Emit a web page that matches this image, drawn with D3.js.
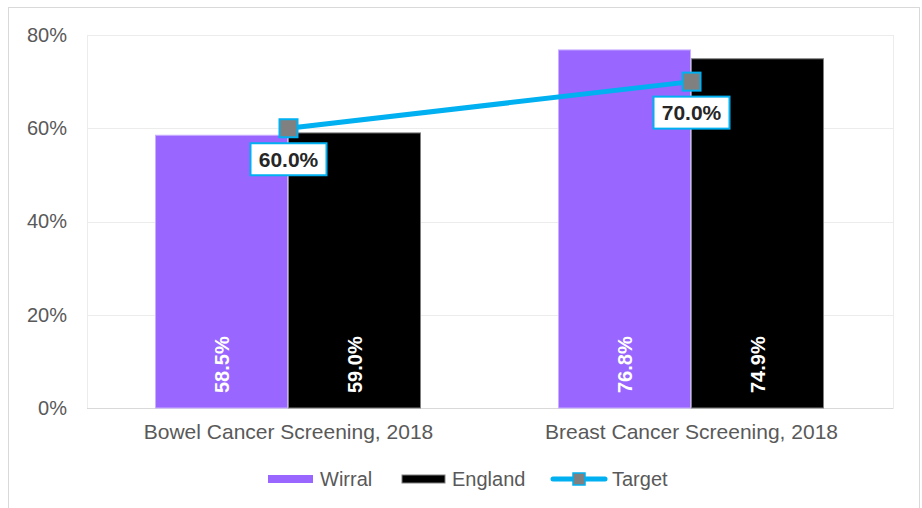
<!DOCTYPE html>
<html>
<head>
<meta charset="utf-8">
<script src="https://cdn.jsdelivr.net/npm/d3@7"></script>
<style>
  body { margin: 0; background: #fff; }
  text { font-family: Arial, 'Liberation Sans', sans-serif; }
</style>
</head>
<body>
<div id="chart"></div>
<script>
let categories = ['Bowel Cancer Screening, 2018', 'Breast Cancer Screening, 2018']
let seriesNames = ['Wirral', 'England']
let wirral = [58.5, 76.8]
let england = [59.0, 74.9]
let target = [60.0, 70.0]
let yTicks = [0, 20, 40, 60, 80]

let colors = { Wirral: '#9966ff', England: '#000000', Target: '#00b0f0' }

let margin = { top: 35, left: 87, right: 29, bottom: 100 }
let width = 922 - margin.left - margin.right
let height = 508 - margin.top - margin.bottom

let root = d3.select('#chart')
  .append('svg')
  .attr('width', 922)
  .attr('height', 508)

// outer chart border
root.append('rect')
  .attr('x', 8.5).attr('y', 7.5)
  .attr('width', 911).attr('height', 520)
  .attr('fill', '#fff')
  .attr('stroke', '#d9d9d9')

let svg = root.append('g')
  .attr('transform', 'translate(' + margin.left + ',' + margin.top + ')')

let x0 = d3.scaleBand().domain(categories).range([0, width]).paddingInner(0.34).paddingOuter(0.17)
let x1 = d3.scaleBand().domain(seriesNames).range([0, x0.bandwidth()]).padding(0)
let y = d3.scaleLinear().domain([0, 80]).range([height, 0])

// plot area border + grid
svg.append('rect')
  .attr('x', 0.5).attr('y', 0.5)
  .attr('width', width).attr('height', height)
  .attr('fill', 'none')
  .attr('stroke', '#ececec')

svg.selectAll('.grid')
  .data(yTicks)
  .enter()
  .append('line')
  .attr('class', 'grid')
  .attr('x1', 0).attr('x2', width)
  .attr('y1', d => Math.round(y(d)) + 0.5)
  .attr('y2', d => Math.round(y(d)) + 0.5)
  .attr('stroke', d => d === 0 ? '#d9d9d9' : '#ececec')

let yAxis = svg.append('g')
  .call(d3.axisLeft(y).tickValues(yTicks).tickFormat(d => d + '%').tickSize(0).tickPadding(20))
yAxis.select('.domain').remove()
yAxis.selectAll('text').attr('font-size', 20).attr('fill', '#595959')

let xAxis = svg.append('g')
  .attr('transform', `translate(0,${height})`)
  .call(d3.axisBottom(x0).tickSize(0).tickPadding(16))
xAxis.select('.domain').remove()
xAxis.selectAll('text').attr('font-size', 21).attr('fill', '#595959')

let rows = categories.map((c, i) => ({ cat: c, Wirral: wirral[i], England: england[i] }))

let groups = svg.selectAll('.group')
  .data(rows)
  .enter()
  .append('g')
  .attr('class', 'group')
  .attr('transform', d => `translate(${x0(d.cat)},0)`)

groups.selectAll('rect')
  .data(d => seriesNames.map(s => ({ s: s, v: d[s] })))
  .enter()
  .append('rect')
  .attr('x', d => x1(d.s))
  .attr('y', d => y(d.v))
  .attr('width', x1.bandwidth() - 1)
  .attr('height', d => height - y(d.v))
  .attr('fill', d => colors[d.s])
  .attr('stroke', d => d.s === 'England' ? '#7f7f7f' : '#c9b0ff')
  .attr('stroke-width', 1)

groups.selectAll('.val')
  .data(d => seriesNames.map(s => ({ s: s, v: d[s] })))
  .enter()
  .append('text')
  .attr('class', 'val')
  .attr('transform', d => `translate(${x1(d.s) + x1.bandwidth() / 2},${height - 15}) rotate(-90)`)
  .attr('text-anchor', 'start')
  .attr('dy', '0.36em')
  .attr('font-size', 20)
  .attr('font-weight', 'bold')
  .attr('fill', '#fff')
  .text(d => d.v.toFixed(1) + '%')

// target line
let tx = (d, i) => x0(categories[i]) + x0.bandwidth() / 2
let line = d3.line().x((d, i) => tx(d, i)).y(d => y(d))

svg.append('path')
  .datum(target)
  .attr('d', line)
  .attr('fill', 'none')
  .attr('stroke', colors.Target)
  .attr('stroke-width', 5)

svg.selectAll('.marker')
  .data(target)
  .enter()
  .append('rect')
  .attr('class', 'marker')
  .attr('x', (d, i) => tx(d, i) - 9)
  .attr('y', d => y(d) - 9)
  .attr('width', 18).attr('height', 18)
  .attr('fill', '#808080')
  .attr('stroke', colors.Target)
  .attr('stroke-width', 2)

let tLabels = svg.selectAll('.tlabel')
  .data(target)
  .enter()
  .append('g')
  .attr('class', 'tlabel')
  .attr('transform', (d, i) => `translate(${tx(d, i)},${y(d) + 31})`)

tLabels.append('rect')
  .attr('x', -38).attr('y', -16)
  .attr('width', 76).attr('height', 32)
  .attr('fill', '#fff')
  .attr('stroke', colors.Target)
  .attr('stroke-width', 2)

tLabels.append('text')
  .attr('text-anchor', 'middle')
  .attr('dy', '0.36em')
  .attr('font-size', 21)
  .attr('font-weight', 'bold')
  .attr('fill', '#262626')
  .text(d => d.toFixed(1) + '%')

// legend
let legendItems = [
  { name: 'Wirral', x: 268, w: 45 },
  { name: 'England', x: 402, w: 43 },
  { name: 'Target', x: 553, w: 52 }
]

let legend = root.append('g').attr('transform', 'translate(0,479)')

legend.selectAll('.legend-entry')
  .data(legendItems)
  .enter()
  .append('g')
  .attr('class', 'legend-entry')
  .each(function (d) {
    let g = d3.select(this)
    if (d.name === 'Target') {
      g.append('line')
        .attr('x1', d.x).attr('x2', d.x + d.w)
        .attr('y1', 0).attr('y2', 0)
        .attr('stroke', colors.Target)
        .attr('stroke-width', 5)
        .attr('stroke-linecap', 'round')
      g.append('rect')
        .attr('x', d.x + d.w / 2 - 6).attr('y', -6)
        .attr('width', 12).attr('height', 12)
        .attr('fill', '#808080')
        .attr('stroke', colors.Target)
        .attr('stroke-width', 1.5)
    } else {
      g.append('rect')
        .attr('x', d.x).attr('y', -4)
        .attr('width', d.w).attr('height', 8)
        .attr('fill', colors[d.name])
        .attr('stroke', d.name === 'England' ? '#7f7f7f' : 'none')
    }
    g.append('text')
      .attr('x', d.x + d.w + 7)
      .attr('dy', '0.36em')
      .attr('font-size', 20)
      .attr('fill', '#595959')
      .text(d.name)
  })
</script>
</body>
</html>
